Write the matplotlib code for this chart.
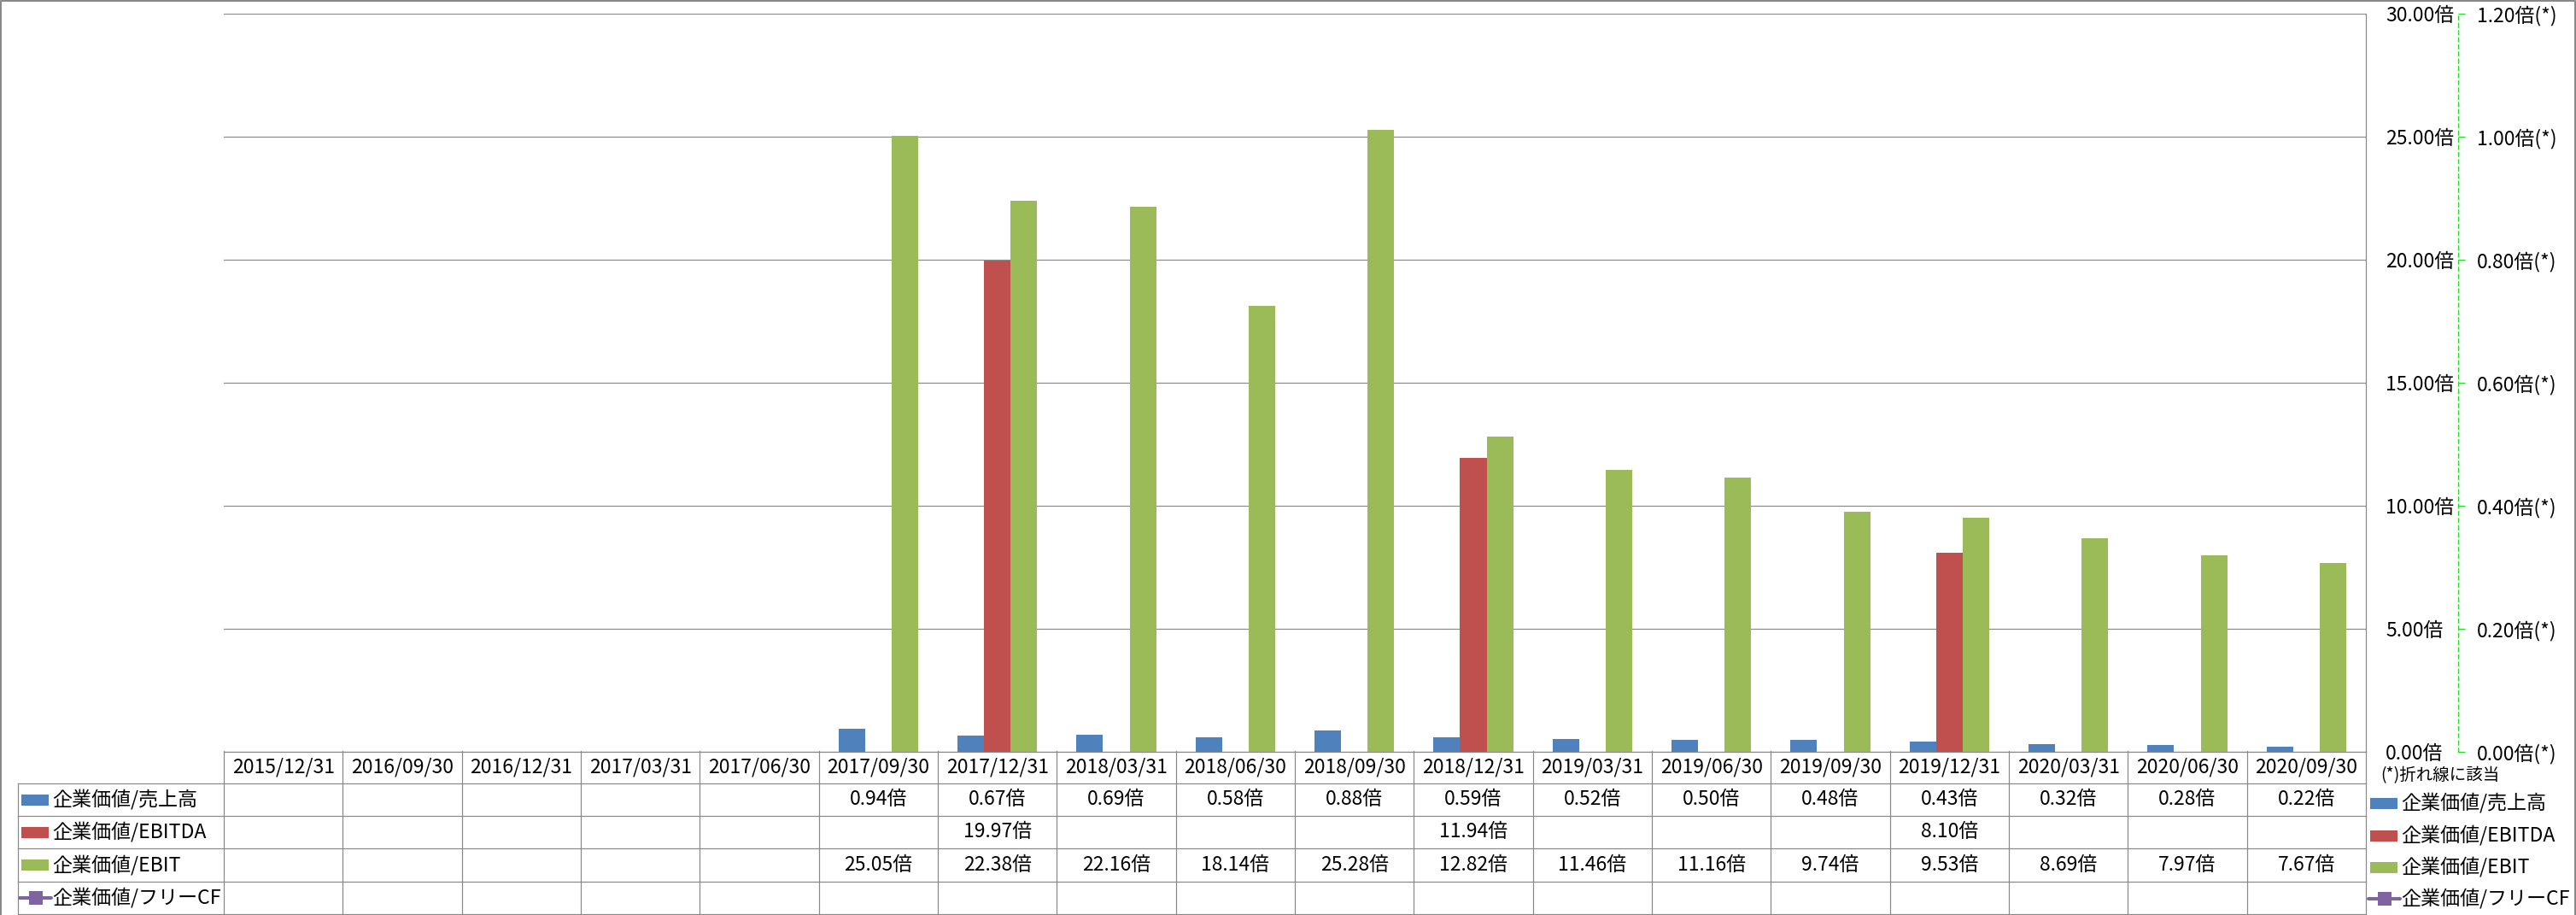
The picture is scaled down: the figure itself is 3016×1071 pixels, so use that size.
import numpy as np
import matplotlib
matplotlib.use('Agg')
import matplotlib.pyplot as plt
from matplotlib.transforms import blended_transform_factory
from matplotlib.lines import Line2D
from matplotlib.patches import Rectangle

plt.rcParams['font.family'] = ['Noto Sans CJK JP', 'DejaVu Sans']

nan = np.nan
dates = ['2015/12/31', '2016/09/30', '2016/12/31', '2017/03/31', '2017/06/30',
         '2017/09/30', '2017/12/31', '2018/03/31', '2018/06/30', '2018/09/30',
         '2018/12/31', '2019/03/31', '2019/06/30', '2019/09/30', '2019/12/31',
         '2020/03/31', '2020/06/30', '2020/09/30']
ev_sales = [nan, nan, nan, nan, nan, 0.94, 0.67, 0.69, 0.58, 0.88, 0.59, 0.52,
            0.50, 0.48, 0.43, 0.32, 0.28, 0.22]
ev_ebitda = [nan, nan, nan, nan, nan, nan, 19.97, nan, nan, nan, 11.94, nan,
             nan, nan, 8.10, nan, nan, nan]
ev_ebit = [nan, nan, nan, nan, nan, 25.05, 22.38, 22.16, 18.14, 25.28, 12.82,
           11.46, 11.16, 9.74, 9.53, 8.69, 7.97, 7.67]
ev_fcf = [nan] * 18
series_names = ['企業価値/売上高', '企業価値/EBITDA', '企業価値/EBIT', '企業価値/フリーCF']
colors = ['#4F81BD', '#C0504D', '#9BBB59', '#8064A2']
left_ticks = [0, 5, 10, 15, 20, 25, 30]
right_ticks = [0, 0.2, 0.4, 0.6, 0.8, 1.0, 1.2]
note_text = '(*)折れ線に該当'

W, H = 3016, 1071
DPI = 100
PT = 72 / DPI  # points per pixel
grid_c = '#898989'
axis_green = '#22DD22'
FS = 16.5
FS_LEG = 16.6

fig = plt.figure(figsize=(W / DPI, H / DPI), dpi=DPI)
ov = fig.add_axes([0, 0, 1, 1], zorder=0)
ov.set_xlim(0, W)
ov.set_ylim(H, 0)
ov.axis('off')

L, R, T, B = 262, 2770, 16, 880
ax = fig.add_axes([L / W, (H - B) / H, (R - L) / W, (B - T) / H], zorder=1)
ax.set_facecolor('none')

x = np.arange(len(dates))
bw = 0.2225
ax.bar(x - bw, ev_sales, bw, color=colors[0], zorder=3)
ax.bar(x, ev_ebitda, bw, color=colors[1], zorder=3)
ax.bar(x + bw, ev_ebit, bw, color=colors[2], zorder=3)
ax.set_xlim(-0.5, len(dates) - 0.5)
ax.set_ylim(0, 30)
ax.set_xticks([])
ax.grid(axis='y', color=grid_c, lw=1.2 * PT, zorder=0)
ax.set_axisbelow(True)

ax2 = ax.twinx()
ax2.set_ylim(0, 1.2)
ax2.plot(x, ev_fcf, color=colors[3], lw=3, marker='s')
for s in ['top', 'left', 'bottom']:
    ax2.spines[s].set_visible(False)
ax2.spines['right'].set_position(('axes', (2878 - L) / (R - L)))
ax2.spines['right'].set_color(axis_green)
ax2.spines['right'].set_linestyle((0, (4, 3)))
ax2.spines['right'].set_linewidth(1.2 * PT)
ax2.set_yticks(right_ticks)
ax2.set_yticklabels([f'{v:.2f}倍(*)' for v in right_ticks], fontsize=FS)
ax2.tick_params(axis='y', direction='out', length=8 * PT, width=1.2 * PT,
                color=axis_green, pad=14 * PT)

# primary axis labels on the right (after twinx, which resets to left)
ax.yaxis.tick_right()
ax.set_yticks(left_ticks)
ax.set_yticklabels([f'{v:.2f}倍' for v in left_ticks], fontsize=FS)
ax.tick_params(axis='y', which='both', left=False, right=True, labelleft=False,
               labelright=True, length=0, pad=23 * PT)
for s in ['top', 'left']:
    ax.spines[s].set_visible(False)
ax.spines['right'].set_color(grid_c)
ax.spines['right'].set_linewidth(1.2 * PT)
ax.spines['bottom'].set_color(grid_c)
ax.spines['bottom'].set_linewidth(1.2 * PT)

# data table
tr = blended_transform_factory(ax.transData, ov.transData)
lw_t = 1.2 * PT
row_tops = [917, 955, 993, 1032, 1070]
row_centers = [936, 974, 1012.5, 1051]
for i in range(len(dates) + 1):
    ov.add_line(Line2D([i - 0.5, i - 0.5], [879, 1070], transform=tr,
                       color=grid_c, lw=lw_t))
for yy in row_tops:
    ov.add_line(Line2D([21, R], [yy, yy], color=grid_c, lw=lw_t))
ov.add_line(Line2D([21, 21], [917, 1070], color=grid_c, lw=lw_t))

for i, d in enumerate(dates):
    ov.text(i, 898, d, transform=tr, ha='center', va='center', fontsize=FS)

for r, vals in enumerate([ev_sales, ev_ebitda, ev_ebit, ev_fcf]):
    for i, v in enumerate(vals):
        if not np.isnan(v):
            ov.text(i, row_centers[r], f'{v:.2f}倍', transform=tr,
                    ha='center', va='center', fontsize=FS)


def legend_key(x0, yc, k):
    if k < 3:
        ov.add_patch(Rectangle((x0, yc - 6.5), 32, 13, color=colors[k], lw=0))
    else:
        ov.add_line(Line2D([x0 - 2, x0 + 35], [yc, yc], color=colors[k], lw=4 * PT,
                           solid_capstyle='round'))
        ov.add_line(Line2D([x0 + 16.5], [yc], color=colors[k], marker='s',
                           markersize=16 * PT, markeredgewidth=0, lw=0))


for r, name in enumerate(series_names):
    legend_key(25, row_centers[r], r)
    ov.text(61, row_centers[r], name, ha='left', va='center', fontsize=FS_LEG)

# right legend
ov.text(2787, 908, note_text, ha='left', va='center', fontsize=14)
right_rows = [940, 978, 1015, 1052]
for r, name in enumerate(series_names):
    legend_key(2775, right_rows[r], r)
    ov.text(2811, right_rows[r], name, ha='left', va='center', fontsize=FS_LEG)

# outer border
ov.add_line(Line2D([1, 1, W - 1, W - 1], [H, 1, 1, H], color=grid_c, lw=2 * PT))

fig.savefig('out.png', dpi=DPI)
